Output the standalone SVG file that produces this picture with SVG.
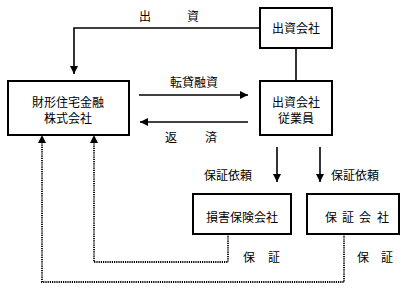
<svg xmlns="http://www.w3.org/2000/svg" width="412" height="289" viewBox="0 0 412 289">
<style>
.box{fill:#fff;stroke:#000;stroke-width:2}
.ln{fill:none;stroke:#000;stroke-width:1.6}
.dot{fill:none;stroke:#000;stroke-width:1.8;stroke-dasharray:1.2 1}
text{font-family:"Noto Sans CJK JP","Noto Sans CJK SC",sans-serif;font-size:12px;fill:#000;font-weight:400}
.c{text-anchor:middle}
</style>
<defs>
<marker id="ah" markerWidth="8" markerHeight="8" viewBox="0 0 8 8" refX="8" refY="4" orient="auto" markerUnits="userSpaceOnUse">
<path d="M0,0 L8,4 L0,8 Z" fill="#000"/>
</marker>
</defs>
<g id="connectors">
<path class="ln" d="M259,28 H74 V74" marker-end="url(#ah)"/>
<path class="ln" d="M296,48 V81"/>
<path class="ln" d="M139,95 H248" marker-end="url(#ah)"/>
<path class="ln" d="M248,122 H140" marker-end="url(#ah)"/>
<path class="ln" d="M277,147 V182" marker-end="url(#ah)"/>
<path class="ln" d="M320,147 V182" marker-end="url(#ah)"/>
<path class="dot" d="M228,234 V262 H94 V143"/>
<path class="dot" d="M344,234 V282 H42 V143"/>
<path d="M94,135 L90,143 L98,143 Z" fill="#000"/>
<path d="M42,135 L38,143 L46,143 Z" fill="#000"/>
<text x="139" y="20.5" xml:space="preserve">出　　　資</text>
<text class="c" x="194" y="86.5">転貸融資</text>
<text y="141.5"><tspan x="165">返</tspan><tspan x="205">済</tspan></text>
<text x="204" y="179.5">保証依頼</text>
<text x="331" y="179.5">保証依頼</text>
<text y="261.5"><tspan x="243">保</tspan><tspan x="268">証</tspan></text>
<text y="261.5"><tspan x="357">保</tspan><tspan x="381">証</tspan></text>
</g>
<g id="shusshi">
<rect class="box" x="260" y="8" width="72" height="40"/>
<text class="c" x="296" y="32.5">出資会社</text>
</g>
<g id="zaikei">
<rect class="box" x="8" y="81" width="121" height="54"/>
<text class="c" x="68" y="106.5">財形住宅金融</text>
<text class="c" x="68" y="122.5">株式会社</text>
</g>
<g id="jugyoin">
<rect class="box" x="260" y="81" width="72" height="54"/>
<text class="c" x="296" y="106.5">出資会社</text>
<text class="c" x="296" y="122.5">従業員</text>
</g>
<g id="songai">
<rect class="box" x="193" y="194" width="98" height="40"/>
<text class="c" x="242" y="221.5">損害保険会社</text>
</g>
<g id="hosho">
<rect class="box" x="307" y="194" width="92" height="40"/>
<text y="221.5"><tspan x="325">保</tspan><tspan x="342">証</tspan><tspan x="359">会</tspan><tspan x="377">社</tspan></text>
</g>
</svg>
